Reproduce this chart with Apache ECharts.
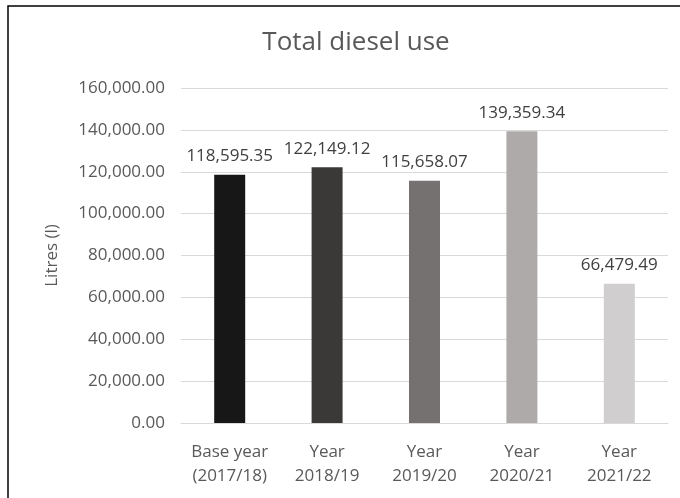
<!DOCTYPE html>
<html>
<head>
<meta charset="utf-8">
<script src="https://cdn.jsdelivr.net/npm/echarts@6/dist/echarts.min.js"></script>
<style>
  html, body { margin: 0; padding: 0; background: #fff; }
  #chart { width: 680px; height: 498px; }
</style>
</head>
<body>
<div id="chart"></div>
<script>
// categories and values
var categories = ['Base year\n(2017/18)', 'Year\n2018/19', 'Year\n2019/20', 'Year\n2020/21', 'Year\n2021/22'];
var dieselLitres = [118595.35, 122149.12, 115658.07, 139359.34, 66479.49];
var barColors = ['#181717', '#3b3838', '#767171', '#aeaaaa', '#d0cece'];
var yTicks = [0, 20000, 40000, 60000, 80000, 100000, 120000, 140000, 160000];

var fontFam = '"Open Sans", sans-serif';

function fmt(v) {
  return v.toLocaleString('en-US', { minimumFractionDigits: 2, maximumFractionDigits: 2 });
}

var chart = echarts.init(document.getElementById('chart'));
chart.setOption({
  animation: false,
  backgroundColor: '#fff',
  graphic: [{
    type: 'rect',
    shape: { x: 8, y: 6, width: 720, height: 560 },
    style: { fill: 'none', stroke: '#000', lineWidth: 1.5 },
    silent: true
  }],
  title: {
    text: 'Total diesel use',
    left: 351,
    textAlign: 'center',
    top: 25,
    textStyle: { fontFamily: fontFam, fontSize: 26, fontWeight: 'normal', color: '#595959' }
  },
  grid: { left: 181, right: 12, top: 88, bottom: 75 },
  xAxis: {
    type: 'category',
    data: categories,
    axisTick: { show: false },
    axisLine: { lineStyle: { color: '#d9d9d9' } },
    axisLabel: {
      interval: 0,
      hideOverlap: false,
      margin: 17,
      fontFamily: fontFam, fontSize: 17, lineHeight: 24, color: '#595959'
    }
  },
  yAxis: {
    type: 'value',
    min: yTicks[0],
    max: yTicks[yTicks.length - 1],
    interval: yTicks[1] - yTicks[0],
    name: 'Litres (l)',
    nameLocation: 'middle',
    nameGap: 120,
    nameTextStyle: { fontFamily: fontFam, fontSize: 17, color: '#595959' },
    axisLine: { show: false },
    axisTick: { show: false },
    splitLine: { lineStyle: { color: '#d9d9d9' } },
    axisLabel: {
      margin: 16,
      fontFamily: fontFam, fontSize: 17, color: '#595959',
      formatter: fmt
    }
  },
  series: [{
    type: 'bar',
    barWidth: 31,
    data: dieselLitres.map(function (v, i) {
      return { value: v, itemStyle: { color: barColors[i] } };
    }),
    label: {
      show: true,
      position: 'top',
      distance: 10,
      fontFamily: fontFam, fontSize: 17, color: '#404040',
      formatter: function (p) { return fmt(p.value); }
    }
  }]
});
</script>
</body>
</html>
